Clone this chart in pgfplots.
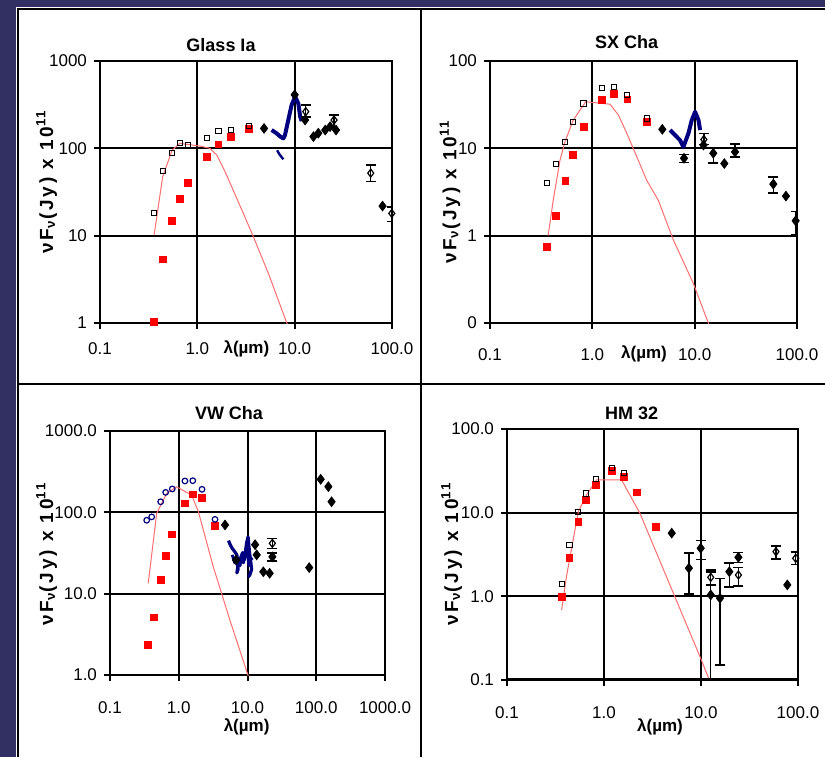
\documentclass[border=0pt]{standalone}
\usepackage{fontspec}
\setmainfont{Liberation Sans}
\usepackage{pgfplots}
\pgfplotsset{compat=1.18}

\definecolor{bgnavy}{RGB}{50,48,98}
\definecolor{irsblue}{RGB}{0,0,128}
\definecolor{modelred}{RGB}{255,110,110}

\pgfplotsset{
  every axis/.append style={
    scale only axis,
    xminorticks=false, yminorticks=false,
    grid=major,
    major grid style={black, line width=1pt},
    axis line style={black, line width=1pt},
    tick style={black, line width=1pt},
    major tick length=3pt, tick align=outside,
    xtick pos=bottom, ytick pos=left,
    ticklabel style={font=\fontsize{8.5}{10}\selectfont},
  },
  photmodel/.style={no marks, color=modelred, line width=0.5pt},
  irsline/.style={no marks, color=irsblue, line width=2pt, line join=round},
  redpt/.style={only marks, mark=square*, mark size=1.7pt, color=red},
  opensq/.style={only marks, mark=square, mark size=1.3pt, black, mark options={line width=0.5pt}},
  opencirc/.style={only marks, mark=o, mark size=1.4pt, irsblue, mark options={line width=0.6pt}},
  blkdia/.style={only marks, mark=diamond*, mark size=2.4pt, black},
  errdia/.style={only marks, mark=diamond*, mark size=2.4pt, black,
    error bars/y dir=both, error bars/y explicit,
    error bars/error bar style={line width=0.7pt},
    error bars/error mark options={rotate=90, mark size=2.5pt, line width=0.8pt}},
  opendia/.style={only marks, mark=diamond, mark size=2pt, black, mark options={line width=0.6pt},
    error bars/y dir=both, error bars/y explicit,
    error bars/error bar style={line width=0.7pt},
    error bars/error mark options={rotate=90, mark size=2.5pt, line width=0.8pt}},
}

\newcommand{\ylab}{\textbf{\addfontfeatures{LetterSpace=15}νF\textsubscript{ν}(Jy) x 10\textsuperscript{11}}}
\newcommand{\xlab}{\textbf{λ(µm)}}

\begin{document}
\begin{tikzpicture}
\fill[bgnavy] (0pt,0pt) rectangle (412.5pt,378.5pt);
\fill[white] (8pt,0pt) rectangle (412.5pt,375pt);
\draw[black, line width=1pt] (9pt,0pt) -- (9pt,373.75pt) -- (412.5pt,373.75pt);
\draw[black, line width=1pt] (210.5pt,0pt) -- (210.5pt,373.75pt);
\draw[black, line width=1pt] (9pt,186.5pt) -- (412.5pt,186.5pt);

% ---------------- Glass Ia ----------------
\begin{loglogaxis}[at={(50pt,217pt)}, anchor=south west, width=146pt, height=131pt,
  xmin=0.1, xmax=100, ymin=1, ymax=1000,
  xtick={0.1,1,10,100}, xticklabels={0.1,1.0,10.0,100.0},
  ytick={1,10,100,1000}, yticklabels={1,10,100,1000},
  xticklabel style={yshift=-3.5pt}]
\addplot[photmodel] coordinates {(0.36,10.2) (0.44,47) (0.55,95) (0.66,114) (1.07,106) (1.35,100) (1.58,84) (1.93,54) (2.34,33) (2.97,18) (3.77,9.7) (5.37,3.7) (8.3,1.0) (9.0,0.85)};
\addplot[irsline] coordinates {(5.8,162) (6.5,149) (7.2,135) (7.65,130) (7.96,142) (8.6,211) (9.3,313) (10.1,390) (10.9,327) (11.4,230) (11.8,205)};
\addplot[no marks, color=irsblue, line width=1.2pt] coordinates {(6.6,95) (7.0,85) (7.65,75)};
\addplot[redpt] coordinates {(0.36,1.03) (0.44,5.35) (0.55,14.8) (0.66,26.2) (0.8,40) (1.25,79) (1.65,111) (2.2,134) (3.4,166)};
\addplot[opensq] coordinates {(0.36,18) (0.44,55) (0.55,88) (0.66,114) (0.8,109) (1.25,130) (1.65,159) (2.2,162) (3.4,180)};
\addplot[blkdia] coordinates {(4.85,169) (10.0,410) (12.8,211) (15.6,136) (17.5,149) (20.6,162) (23.1,177) (26.6,162) (80,21.8)};
\addplot[opendia] coordinates {
  (13.0,263) += (0,50) -= (0,33)
  (25.4,211) += (0,29) -= (0,42)
  (60.5,52) += (0,12.5) -= (0,10.3)
  (99.5,18) += (0,3.3) -= (0,3.4)};
\end{loglogaxis}

% ---------------- SX Cha ----------------
\begin{loglogaxis}[at={(245pt,217pt)}, anchor=south west, width=153.5pt, height=131pt,
  xmin=0.1, xmax=100, ymin=0.1, ymax=100,
  xtick={0.1,1,10,100}, xticklabels={0.1,1.0,10.0,100.0},
  ytick={0.1,1,10,100}, yticklabels={0,1,10,100},
  xticklabel style={yshift=-6.5pt}]
\addplot[photmodel] coordinates {(0.37,1.0) (0.415,2.56) (0.483,7.3) (0.54,11.9) (0.65,21) (0.82,31.3) (0.86,34.2) (1.49,32) (1.8,24) (2.17,14.9) (2.72,8.0) (3.4,4.3) (4.4,2.56) (6.2,0.89) (9.7,0.284) (13.6,0.1) (14.5,0.085)};
\addplot[irsline] coordinates {(5.75,16.2) (6.5,14) (7.2,12.4) (7.76,10.4) (8.7,14.9) (9.36,21) (10.1,26.2) (10.9,21) (11.3,16.2)};
\addplot[redpt] coordinates {(0.363,0.746) (0.44,1.67) (0.545,4.2) (0.65,8.4) (0.82,17.7) (1.24,35.7) (1.63,41.9) (2.2,36.4) (3.4,20.2)};
\addplot[opensq] coordinates {(0.363,4.0) (0.44,6.6) (0.545,11.9) (0.65,20.2) (0.82,32.7) (1.24,48.6) (1.63,50.8) (2.2,40.8) (3.4,22)};
\addplot[blkdia] coordinates {(4.83,16.5) (12.2,10.9) (19.5,6.7) (78,2.84)};
\addplot[errdia] coordinates {
  (7.87,7.7) += (0,0.8) -= (0,0.8)
  (15.2,8.8) += (0,1.2) -= (0,2.0)
  (24.8,9.1) += (0,2.1) -= (0,1.2)
  (58.7,3.9) += (0,0.8) -= (0,0.8)
  (97,1.48) += (0,0.42) -= (0,0.45)};
\addplot[opendia] coordinates {(12.3,12.6) += (0,2.2) -= (0,1.5)};
\end{loglogaxis}

% ---------------- VW Cha ----------------
\begin{loglogaxis}[at={(55pt,41pt)}, anchor=south west, width=137.5pt, height=122pt,
  xmin=0.1, xmax=1000, ymin=1, ymax=1000,
  xtick={0.1,1,10,100,1000}, xticklabels={0.1,1.0,10.0,100.0,1000.0},
  ytick={1,10,100,1000}, yticklabels={1.0,10.0,100.0,1000.0},
  xticklabel style={yshift=-7pt}]
\addplot[photmodel] coordinates {(0.36,13.4) (0.477,97) (0.667,171) (0.933,206) (1.54,163) (1.93,102) (3.18,21.4) (5.56,4.7) (10.3,0.96)};
\addplot[blkdia] coordinates {(4.71,70) (6.8,26) (12.9,40) (13.6,30) (17,18.6) (21,17.8) (79,20.9) (116,255) (150,207) (167,135)};
\addplot[irsline, line width=1.6pt] coordinates {(5.3,45) (5.6,40) (6.0,36) (6.5,33) (7.0,30) (7.3,20) (7.0,18) (7.5,26) (8.0,28) (8.5,32) (8.7,24) (9.2,30) (9.7,42) (10.2,50) (10.5,38) (10.8,30) (11.2,24) (11.5,20) (10.8,17) (10.2,16)};
\addplot[irsline, line width=1.4pt] coordinates {(6.0,30) (6.5,24) (7.0,28) (7.8,22) (8.3,30) (9.0,26) (9.5,36) (10.0,30) (10.5,22) (11.0,28) (11.8,26)};
\addplot[redpt] coordinates {(0.36,2.33) (0.436,5.1) (0.546,14.7) (0.645,29) (0.805,53.6) (1.23,129) (1.6,166) (2.18,149) (3.37,68.6)};
\addplot[opencirc] coordinates {(0.342,80) (0.404,88) (0.546,135) (0.645,176) (0.805,194) (1.23,243) (1.6,245) (2.18,192) (3.37,82)};
\addplot[errdia] coordinates {(23,28.4) += (0,3) -= (0,3)};
\addplot[opendia] coordinates {(23,41.6) += (0,6) -= (0,5.6)};
\end{loglogaxis}

% ---------------- HM 32 ----------------
\begin{loglogaxis}[at={(253.5pt,38.5pt)}, anchor=south west, width=145.5pt, height=125.5pt,
  xmin=0.1, xmax=100, ymin=0.1, ymax=100,
  xtick={0.1,1,10,100}, xticklabels={0.1,1.0,10.0,100.0},
  ytick={0.1,1,10,100}, yticklabels={0.1,1.0,10.0,100.0},
  xticklabel style={yshift=-7pt}]
\addplot[photmodel] coordinates {(0.366,0.69) (0.41,1.72) (0.544,10.3) (0.66,16.3) (0.84,24.6) (1.52,24.6) (2.35,9.8) (5.19,1.09) (9.77,0.19) (12.4,0.095)};
\addplot[redpt] coordinates {(0.366,0.975) (0.44,2.9) (0.544,7.8) (0.652,14.2) (0.82,21.4) (1.2,31.8) (1.61,26.9) (2.17,17.5) (3.41,6.8)};
\addplot[opensq] coordinates {(0.366,1.39) (0.44,4.1) (0.544,10.3) (0.652,17) (0.82,25) (1.2,33.9) (1.61,30)};
\addplot[blkdia] coordinates {(4.99,5.7) (77.6,1.37)};
\addplot[errdia] coordinates {
  (7.5,2.17) += (0,1.1) -= (0,1.1)
  (9.93,3.76) += (0,0.9) -= (0,1.0)
  (12.6,1.04) += (0,0.9) -= (0,1.0)
  (15.7,0.95) += (0,0.69) -= (0,0.8)
  (19.6,1.97) += (0,0.53) -= (0,0.67)
  (24.3,2.93) += (0,0.4) -= (0,0.4)};
\addplot[opendia] coordinates {
  (12.6,1.69) += (0,0.37) -= (0,0.32)
  (24.3,1.8) += (0,0.4) -= (0,0.47)
  (59.3,3.42) += (0,0.58) -= (0,0.62)
  (94.6,2.85) += (0,0.55) -= (0,0.45)};
\draw[black, line width=1.6pt] (rel axis cs:0,0) -- (rel axis cs:1,0);
\end{loglogaxis}

% titles and axis labels
\node[font=\bfseries\fontsize{9}{10}\selectfont] at (110.5pt,356pt) {Glass Ia};
\node[font=\bfseries\fontsize{9}{10}\selectfont] at (313.3pt,357.7pt) {SX Cha};
\node[font=\bfseries\fontsize{9}{10}\selectfont] at (114.5pt,171.8pt) {VW Cha};
\node[font=\bfseries\fontsize{9}{10}\selectfont] at (315.8pt,171.8pt) {HM 32};
\node[rotate=90, font=\fontsize{9.5}{10}\selectfont] at (23.3pt,287.7pt) {\ylab};
\node[rotate=90, font=\fontsize{9.5}{10}\selectfont] at (225pt,282.7pt) {\ylab};
\node[rotate=90, font=\fontsize{9.5}{10}\selectfont] at (23.3pt,101.5pt) {\ylab};
\node[rotate=90, font=\fontsize{9.5}{10}\selectfont] at (225.8pt,101.5pt) {\ylab};
\node[font=\fontsize{8.5}{10}\selectfont] at (123.2pt,204.3pt) {\xlab};
\node[font=\fontsize{8.5}{10}\selectfont] at (322pt,201.8pt) {\xlab};
\node[font=\fontsize{8.5}{10}\selectfont] at (123.3pt,15.2pt) {\xlab};
\node[font=\fontsize{8.5}{10}\selectfont] at (330pt,15.2pt) {\xlab};

\pgfresetboundingbox
\path (0pt,0pt) rectangle (412.5pt,378.5pt);
\end{tikzpicture}
\end{document}
